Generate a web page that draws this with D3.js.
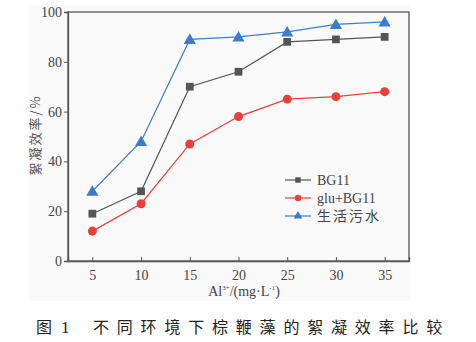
<!DOCTYPE html>
<html><head><meta charset="utf-8">
<script src="https://cdn.jsdelivr.net/npm/d3@7"></script>
<style>body{margin:0;background:#fff}</style>
</head><body>
<svg id="c" width="476" height="342"></svg>
<script>
const categories = [5, 10, 15, 20, 25, 30, 35];
const bg11 = [19, 28, 70, 76, 88, 89, 90];
const gluBg11 = [12, 23, 47, 58, 65, 66, 68];
const sewage = [28, 48, 89, 90, 92, 95, 96];
const seriesNames = ["BG11", "glu+BG11", "生活污水"];
const yTicks = [0, 20, 40, 60, 80, 100];

const svg = d3.select("#c");
const L = 68, R = 409, T = 12, B = 261;
const serif = "'Liberation Serif','DejaVu Serif',serif";
const cjk = "'Noto Sans CJK SC',sans-serif";

svg.append("rect").attr("x", 29).attr("y", 5).attr("width", 381).attr("height", 296).attr("fill", "#fafafa");

const x = d3.scaleLinear().domain([2.5, 37.5]).range([L, R]);
const y = d3.scaleLinear().domain([0, 100]).range([B, T]);

svg.append("rect").attr("x", L).attr("y", T).attr("width", R - L).attr("height", B - T)
  .attr("fill", "none").attr("stroke", "#555").attr("stroke-width", 1.3);

const xAxis = svg.append("g").attr("transform", `translate(0,${B})`)
  .call(d3.axisBottom(x).tickValues(categories).tickSize(-4).tickPadding(9));
const yAxis = svg.append("g").attr("transform", `translate(${L},0)`)
  .call(d3.axisLeft(y).tickValues(yTicks).tickSize(4).tickPadding(2));
[xAxis, yAxis].forEach(a => {
  a.select(".domain").attr("stroke", "#555").attr("stroke-width", 1.3);
  a.selectAll(".tick line").attr("stroke", "#555");
  a.selectAll("text").attr("font-family", serif).attr("font-size", 14).attr("fill", "#444");
});

const series = [
  {name: seriesNames[0], values: bg11, color: "#555555", shape: d3.symbolSquare, size: 60},
  {name: seriesNames[1], values: gluBg11, color: "#e8403a", shape: d3.symbolCircle, size: 64},
  {name: seriesNames[2], values: sewage, color: "#3d7cc9", shape: d3.symbolTriangle, size: 64}
];

const line = d3.line().x((d, i) => x(categories[i])).y(d => y(d));
series.forEach(s => {
  svg.append("path").datum(s.values).attr("d", line).attr("fill", "none")
    .attr("stroke", s.color).attr("stroke-width", 1.2);
  svg.selectAll(null).data(s.values).enter().append("path")
    .attr("d", d3.symbol().type(s.shape).size(s.size))
    .attr("transform", (d, i) => `translate(${x(categories[i])},${y(d) + (s.shape === d3.symbolTriangle ? 1 : 0)})`)
    .attr("fill", s.color);
});

series.forEach((s, i) => {
  const ly = 180 + i * 18;
  svg.append("line").attr("x1", 285).attr("x2", 311).attr("y1", ly).attr("y2", ly)
    .attr("stroke", s.color).attr("stroke-width", 1.2);
  svg.append("path").attr("d", d3.symbol().type(s.shape).size(s.size * 0.5))
    .attr("transform", `translate(298,${ly})`).attr("fill", s.color);
  svg.append("text").attr("x", 317).attr("y", ly + 5).text(s.name)
    .attr("font-family", i === 2 ? cjk : serif).attr("font-size", 14).attr("fill", "#444")
    .attr("letter-spacing", i === 2 ? 2 : 0);
});

const xt = svg.append("text").attr("x", 244).attr("y", 296).attr("text-anchor", "middle")
  .attr("font-family", serif).attr("font-size", 14).attr("fill", "#444");
xt.append("tspan").text("Al");
xt.append("tspan").text("3+").attr("font-size", 7).attr("dy", -6);
xt.append("tspan").text("/(mg·L").attr("dy", 6);
xt.append("tspan").text("-1").attr("font-size", 7).attr("dy", -6);
xt.append("tspan").text(")").attr("dy", 6);

svg.append("text").attr("transform", "translate(40,135) rotate(-90)").attr("text-anchor", "middle")
  .attr("font-family", cjk).attr("font-size", 13).attr("fill", "#555").attr("letter-spacing", 2)
  .text("絮凝效率/%");

const cap = {font: cjk, size: 16, fill: "#222"};
svg.append("text").attr("x", 36).attr("y", 333).attr("font-family", cap.font).attr("font-size", cap.size)
  .attr("fill", cap.fill).text("图");
svg.append("text").attr("x", 61).attr("y", 333).attr("font-family", serif).attr("font-size", 17)
  .attr("fill", cap.fill).text("1");
svg.append("text").attr("x", 93).attr("y", 333).attr("font-family", cap.font).attr("font-size", cap.size)
  .attr("fill", cap.fill).attr("letter-spacing", 7.8).text("不同环境下棕鞭藻的絮凝效率比较");
</script>
</body></html>
